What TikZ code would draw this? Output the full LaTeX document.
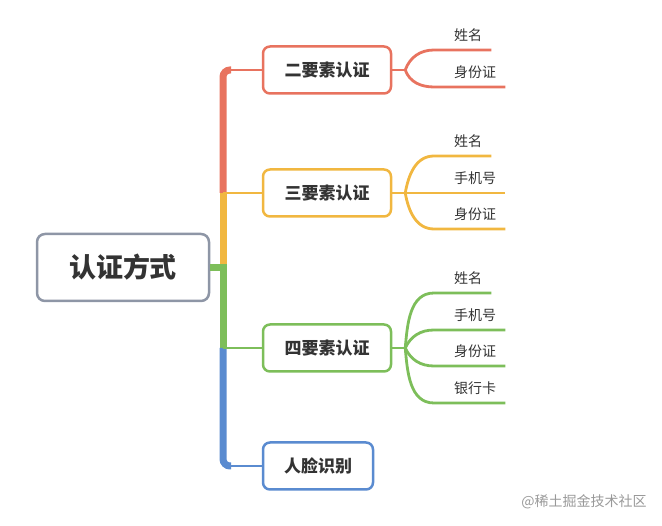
\documentclass[tikz,border=0pt]{standalone}
\usepackage{fontspec}
\setmainfont{Noto Sans CJK SC}
\usetikzlibrary{positioning}

\definecolor{cred}{HTML}{E8735F}
\definecolor{corange}{HTML}{F1B740}
\definecolor{cgreen}{HTML}{7DBE5A}
\definecolor{cblue}{HTML}{5A8BD0}
\definecolor{cgray}{HTML}{8E96A6}
\definecolor{textdark}{HTML}{333333}

\tikzset{
  rootbox/.style={draw=cgray, line width=2.5pt, rounded corners=8pt, fill=white,
    minimum width=172pt, minimum height=67pt, inner sep=0pt,
    font=\fontsize{27}{27}\selectfont\bfseries, text=textdark},
  topic/.style={draw, line width=2.5pt, rounded corners=7pt, fill=white,
    minimum width=128pt, minimum height=47pt, inner sep=0pt,
    font=\fontsize{17}{17}\selectfont\bfseries, text=textdark},
  leaf/.style={anchor=south west, inner xsep=0pt, inner ysep=7pt,
    text height=10pt, text depth=2pt, font=\fontsize{14}{14}\selectfont, text=textdark},
  spine/.style={line width=7pt},
  branch/.style={line width=2.8pt},
}

\begin{document}
\begin{tikzpicture}[x=1pt,y=-1pt]
\useasboundingbox (0,0) rectangle (662,526);

% Root and topics
\node[rootbox] (root) at (123,267.5) {认证方式};
\node[topic, draw=cred] (two) at (327,70) {二要素认证};
\node[topic, draw=corange] (three) at (327,193) {三要素认证};
\node[topic, draw=cgreen] (four) at (327,348) {四要素认证};
\node[topic, draw=cblue, minimum width=110pt] (face) at (318,466) {人脸识别};

% Spine
\coordinate (sp) at (223,0);
\draw[cred, spine, rounded corners=7pt] ([xshift=8pt]two.west -| sp) -- (two.west -| sp) -- (three.west -| sp);
\draw[corange, spine] (three.west -| sp) -- (root.east -| sp);
\draw[cgreen, spine] (root.east) -- (root.east -| sp) -- (four.west -| sp);
\draw[cblue, spine, rounded corners=7pt] (four.west -| sp) -- (face.west -| sp) -- ([xshift=8pt]face.west -| sp);

% Branches to topics
\draw[cred, branch] (two.west -| sp) -- (two.west);
\draw[corange, branch] (three.west -| sp) -- (three.west);
\draw[cgreen, branch] (four.west -| sp) -- (four.west);
\draw[cblue, branch] (face.west -| sp) -- (face.west);

% Leaves
\node[leaf] (t1) at (454,50) {姓名};
\node[leaf] (t2) at (454,87) {身份证};

\node[leaf] (h1) at (454,156) {姓名};
\node[leaf] (h2) at (454,193) {手机号};
\node[leaf] (h3) at (454,229) {身份证};

\node[leaf] (f1) at (454,293) {姓名};
\node[leaf] (f2) at (454,330) {手机号};
\node[leaf] (f3) at (454,366) {身份证};
\node[leaf] (f4) at (454,403) {银行卡};

% Forks
\coordinate[right=13pt of two.east] (ktwo);
\coordinate[right=13pt of three.east] (kthree);
\coordinate[right=13pt of four.east] (kfour);

\draw[cred, branch] (two.east) -- (ktwo);
\draw[cred, branch] (ktwo) to[out=70,in=180] ([xshift=-20pt]t1.south west) -- ([xshift=9pt]t1.south east);
\draw[cred, branch] (ktwo) to[out=-70,in=180] ([xshift=-20pt]t2.south west) -- ([xshift=9pt]t2.south east);

\draw[corange, branch] (three.east) -- (kthree);
\draw[corange, branch] (kthree) to[out=80,in=180] ([xshift=-20pt]h1.south west) -- ([xshift=9pt]h1.south east);
\draw[corange, branch] (kthree) -- ([xshift=9pt]h2.south east);
\draw[corange, branch] (kthree) to[out=-80,in=180] ([xshift=-20pt]h3.south west) -- ([xshift=9pt]h3.south east);

\draw[cgreen, branch] (four.east) -- (kfour);
\draw[cgreen, branch] (kfour) to[out=85,in=180] ([xshift=-20pt]f1.south west) -- ([xshift=9pt]f1.south east);
\draw[cgreen, branch] (kfour) to[out=65,in=180] ([xshift=-20pt]f2.south west) -- ([xshift=9pt]f2.south east);
\draw[cgreen, branch] (kfour) to[out=-65,in=180] ([xshift=-20pt]f3.south west) -- ([xshift=9pt]f3.south east);
\draw[cgreen, branch] (kfour) to[out=-85,in=180] ([xshift=-20pt]f4.south west) -- ([xshift=9pt]f4.south east);

% Watermark
\node[text=gray!80, font=\fontsize{14}{14}\selectfont] (mark) at (584,502) {@稀土掘金技术社区};

\end{tikzpicture}
\end{document}
